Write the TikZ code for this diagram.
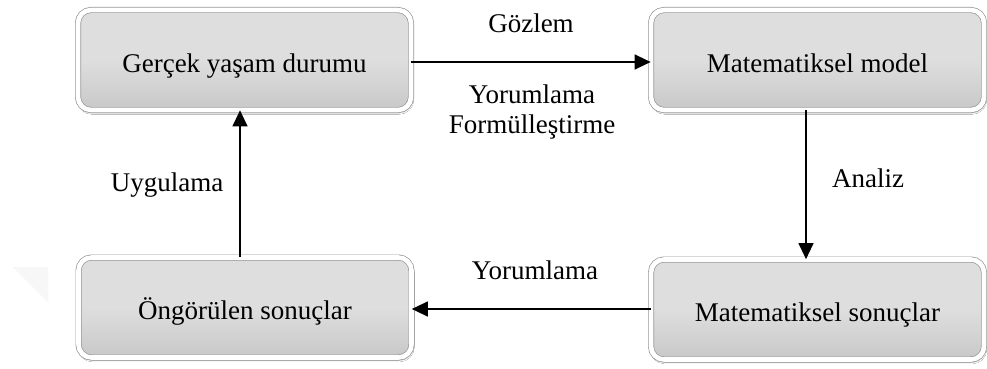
\documentclass[tikz,border=0pt]{standalone}
\usepackage{fontspec}
\setmainfont{Liberation Serif}
\usetikzlibrary{arrows.meta,shadows.blur}
\definecolor{boxfill}{RGB}{222,222,222}
\definecolor{boxbot}{RGB}{200,200,200}
\definecolor{boxedge}{RGB}{150,150,150}
\tikzset{
  stagebox/.style={rounded corners=13pt, minimum width=333pt, minimum height=100pt,
    draw=boxedge, line width=0.7pt, double=white, double distance=4.6pt,
    top color=boxfill, bottom color=boxbot, middle color=boxfill,
    blur shadow={shadow xshift=1pt, shadow yshift=-2.5pt, shadow opacity=35, shadow blur steps=6},
    font=\fontsize{27}{32}\selectfont, inner sep=0pt, text height=25pt, text depth=1pt},
  lbl/.style={font=\fontsize{27}{32}\selectfont, inner sep=0pt},
  flow/.style={line width=1.3pt, -{Triangle[length=16pt,width=15pt]}}
}
\begin{document}
\begin{tikzpicture}[x=1pt,y=-1pt]
\useasboundingbox[fill=white] (0,0) rectangle (987,369);
\fill[gray!6] (13,267) -- (48,267) -- (48,302) -- cycle;
\node[stagebox] (real) at (244.5,60) {Gerçek yaşam durumu};
\node[stagebox] (model) at (817.5,60) {Matematiksel model};
\node[stagebox] (pred) at (245,307.5) {Öngörülen sonuçlar};
\node[stagebox] (res) at (817.5,309.5) {Matematiksel sonuçlar};
\draw[flow] (real.east |- 0,62) -- (model.west |- 0,62);
\draw[flow] (model.south -| 806,0) -- (res.north -| 806,0);
\draw[flow] (res.west |- 0,309) -- (pred.east |- 0,309);
\draw[flow] (pred.north -| 240,0) -- (real.south -| 240,0);
\node[lbl] (gozlem) at (531,23) {Gözlem};
\node[lbl] (yor1) at (532,94) {Yorumlama};
\node[lbl] (form) at (532,127) {Formülleştirme};
\node[lbl] (analiz) at (868,178) {Analiz};
\node[lbl] (yor2) at (535,270) {Yorumlama};
\node[lbl] (uyg) at (167,185) {Uygulama};
\end{tikzpicture}
\end{document}
